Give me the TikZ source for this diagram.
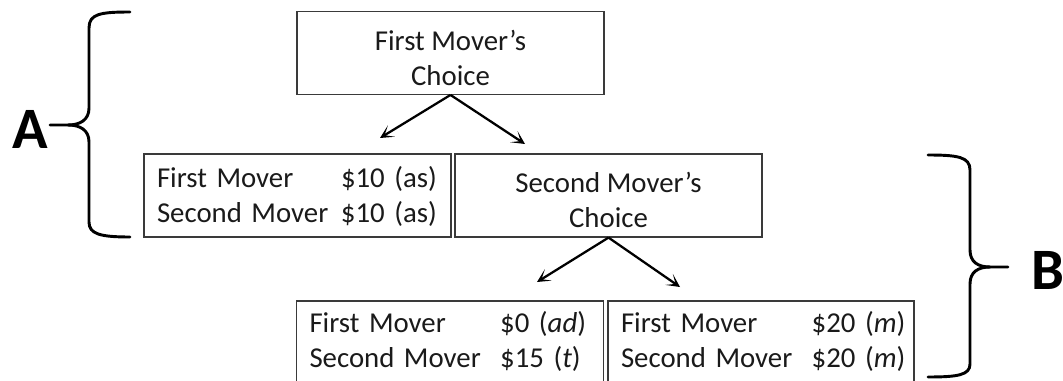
\documentclass[tikz,border=0pt]{standalone}
\usepackage{fontspec}
\setmainfont{Carlito}
\usetikzlibrary{arrows.meta}
\definecolor{ink}{HTML}{1A1A1A}
\definecolor{frame}{HTML}{3A3A3A}
\tikzset{
  choicebox/.style={draw=frame, line width=0.9pt, minimum width=230.25pt, minimum height=62pt,
    inner sep=0pt, align=center, text=ink, font=\fontsize{21.6}{26.25}\selectfont},
  paybox/.style={draw=frame, line width=0.9pt, minimum height=62.25pt, inner xsep=9.75pt, inner ysep=0pt,
    text width=210.75pt, align=left, text=ink, font=\fontsize{21.6}{26.25}\selectfont},
  tree/.style={draw=black, line width=1.7pt, -{Stealth[length=10pt,width=10pt,inset=6pt]}},
  bracket/.style={draw=black, line width=2.2pt, line cap=round, line join=round},
  biglabel/.style={font=\fontsize{44}{50}\selectfont\bfseries, text=black, inner sep=0pt}
}
\begin{document}
\begin{tikzpicture}[x=0.75pt,y=-0.75pt]
\clip (0,0) rectangle (1063,381);
\fill[white] (0,0) rectangle (1063,381);

% boxes
\node[choicebox] (fm) at (450.5,53) {\rule{0pt}{22pt}First Mover’s\\Choice};
\node[paybox, minimum width=230.25pt] (as) at (297.5,195.5)
  {\begin{tabular}{@{}p{138pt}@{}l@{}}\rule{0pt}{22pt}First Mover & \$10 (as)\\Second Mover & \$10 (as)\end{tabular}};
\node[choicebox, minimum height=62.25pt] (sm) at (608.5,195.5) {\rule{0pt}{22pt}Second Mover’s\\Choice};
\node[paybox, minimum width=230.25pt] (ad) at (450,342.5)
  {\begin{tabular}{@{}p{143pt}@{}l@{}}First Mover & \$0 (\textit{ad})\\Second Mover & \$15 (\textit{t})\end{tabular}};
\node[paybox, minimum width=229.5pt, text width=210pt] (mu) at (761,342.5)
  {\begin{tabular}{@{}p{143pt}@{}l@{}}First Mover & \$20 (\textit{m})\\Second Mover & \$20 (\textit{m})\end{tabular}};

% arrow ends
\coordinate (a1) at (380,138);
\coordinate (a2) at (525,144);
\coordinate (b1) at (537,282);
\coordinate (b2) at (680,287);
\draw[tree] (fm.south) -- (a1);
\draw[tree] (fm.south) -- (a2);
\draw[tree] (sm.south) -- (b1);
\draw[tree] (sm.south) -- (b2);

% brace A
\draw[bracket] (130,12) .. controls (100,12) and (89,14) .. (89,28) -- (89,108)
  .. controls (89,120) and (80,125) .. (68,125) -- (50,125);
\draw[bracket] (68,125) .. controls (80,125) and (89,130) .. (89,142) -- (89,222)
  .. controls (89,234) and (100,237) .. (130,237);
\node[biglabel] (A) at (30,129) {A};

% brace B
\draw[bracket] (928,155) .. controls (958,155) and (970,157) .. (970,170) -- (970,250)
  .. controls (970,262) and (978,267) .. (990,267) -- (1008,267);
\draw[bracket] (990,267) .. controls (978,267) and (970,272) .. (970,284) -- (970,364)
  .. controls (970,375) and (958,377) .. (928,377);
\node[biglabel] (B) at (1048,270) {B};
\end{tikzpicture}
\end{document}
